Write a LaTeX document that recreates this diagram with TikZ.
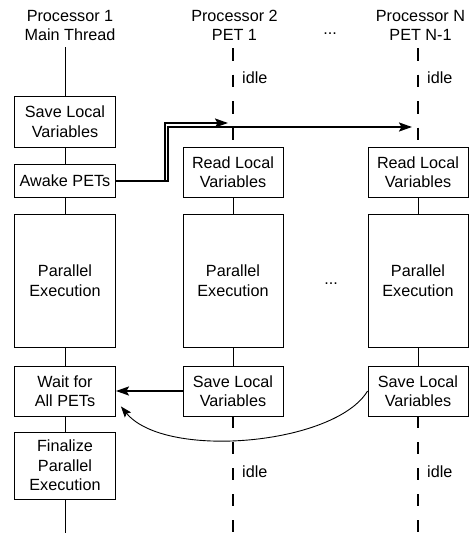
\documentclass[tikz,border=0pt]{standalone}
\usepackage{fontspec}
\setmainfont{Liberation Sans}
\usetikzlibrary{arrows.meta,calc}

\begin{document}
\begin{tikzpicture}[x=1pt,y=-1pt,
  font=\fontsize{16.2}{19.5}\selectfont,
  box/.style={draw,line width=0.9pt,fill=white,align=center,minimum width=101pt,inner sep=0pt},
  pbox/.style={box,minimum width=100pt},
  lane/.style={line width=0.9pt},
  idleline/.style={line width=2.4pt},
  msg/.style={line width=2pt,-{Stealth[length=13pt,width=9pt,inset=2.5pt]}},
  back/.style={line width=0.9pt,-{Stealth[length=11pt,width=8pt,inset=2pt]}},
  head/.style={align=center,inner sep=0pt},
  lbl/.style={anchor=base west,inner sep=0pt},
  dots/.style={anchor=base,inner sep=0pt}]

\useasboundingbox (0,0) rectangle (470,533);

% column headers
\node[head] (h1) at (70,25.5) {Processor 1\\Main Thread};
\node[head] (h2) at (234.5,25.5) {Processor 2\\PET 1};
\node[head] (h3) at (420.5,25.5) {Processor N\\PET N-1};
\node[dots] (d1) at (330,34) {...};

% main thread
\node[box,minimum height=51pt] (save1) at (65,121.5) {Save Local\\Variables};
\node[box,minimum height=33pt] (awake) at (65,180.5) {Awake PETs};
\node[box,minimum height=133pt] (par1) at (65,280.5) {Parallel\\Execution};
\node[box,minimum height=50pt] (wait) at (65,391) {Wait for\\All PETs};
\node[box,minimum height=67pt] (fin) at (65,465.5) {Finalize\\Parallel\\Execution};

% PET 1
\node[pbox,minimum height=50pt] (read2) at (233,172) {Read Local\\Variables};
\node[pbox,minimum height=133pt] (par2) at (233,280.5) {Parallel\\Execution};
\node[pbox,minimum height=50pt] (save2) at (233,391) {Save Local\\Variables};

% PET N-1
\node[pbox,minimum height=50pt] (read3) at (418,172) {Read Local\\Variables};
\node[pbox,minimum height=133pt] (par3) at (418,280.5) {Parallel\\Execution};
\node[pbox,minimum height=50pt] (save3) at (418,391) {Save Local\\Variables};

\node[dots] (d2) at (331,284) {...};

% lifeline ends
\coordinate (top1) at (65,47);
\coordinate (bot1) at (65,533);
\coordinate (top2) at (233,48);
\coordinate (bot2) at (233,533);
\coordinate (top3) at (418,48);
\coordinate (bot3) at (418,533);

% main thread lifeline
\draw[lane] (top1) -- (save1.north) (save1.south) -- (awake.north)
  (awake.south) -- (par1.north) (par1.south) -- (wait.north)
  (wait.south) -- (fin.north) (fin.south) -- (bot1);

% PET lifelines
\foreach \c in {2,3}{
  \draw[idleline,dash pattern=on 12.5pt off 14pt] (top\c) -- (read\c.north);
  \draw[lane] (read\c.south) -- (par\c.north) (par\c.south) -- (save\c.north);
  \draw[idleline,dash pattern=on 12pt off 14pt] (save\c.south) -- (bot\c);
}

% idle labels
\node[lbl] (i2a) at (242,83) {idle};
\node[lbl] (i2b) at (242,477) {idle};
\node[lbl] (i3a) at (427,83) {idle};
\node[lbl] (i3b) at (427,477) {idle};

% wake-up messages
\coordinate (w2) at (233,123);
\coordinate (w3) at (418,127);
\draw[msg,shorten >=5pt] (awake.east) -| (165,123) -- (w2);
\draw[msg,shorten >=6pt] (awake.east) -| (168,127) -- (w3);

% completion messages
\draw[msg] (save2.west) -- (wait.east);
\coordinate (ret) at ($(wait.south east)+(5,-10)$);
\draw[back] (save3.west) .. controls (335,445) and (165,460) .. (ret);

\end{tikzpicture}
\end{document}
